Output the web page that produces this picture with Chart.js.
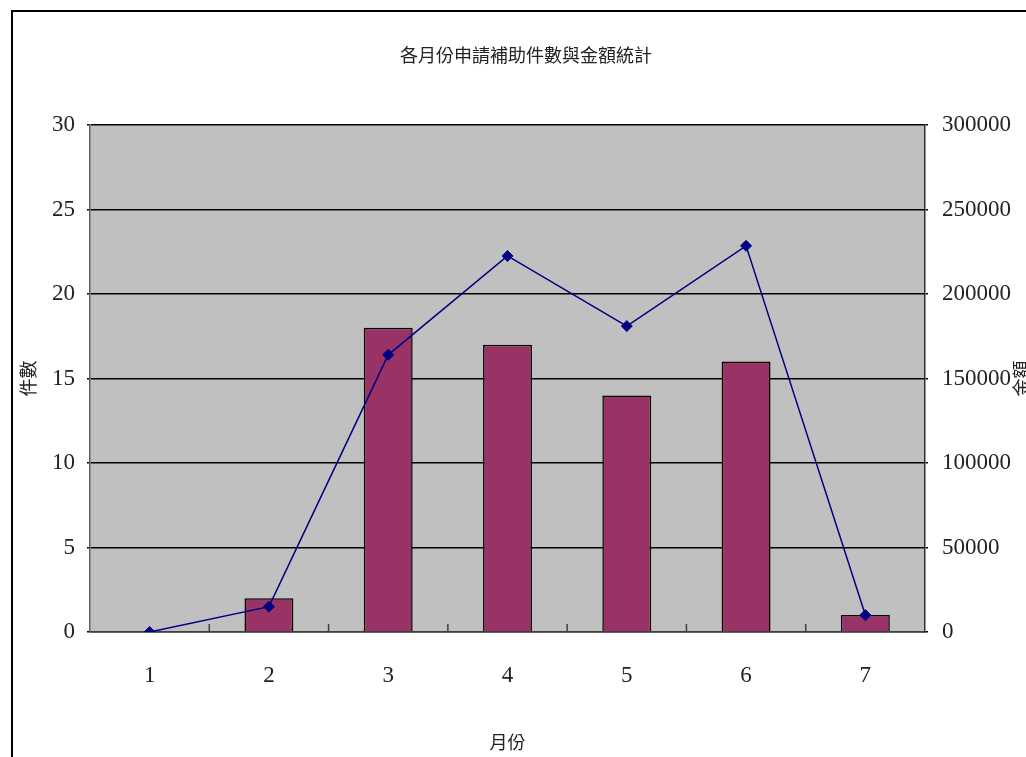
<!DOCTYPE html>
<html>
<head>
<meta charset="utf-8">
<script src="https://cdn.jsdelivr.net/npm/chart.js@4/dist/chart.umd.min.js"></script>
<style>
    html, body {
        margin: 0;
        padding: 0;
        background: #FFFFFF;
        overflow: hidden;
    }
</style>
</head>
<body>
<canvas id="grafico" width="1026" height="757"></canvas>
<script>

const meses = ["1", "2", "3", "4", "5", "6", "7"];

const casos = [0, 2, 18, 17, 14, 16, 1];

const montos = [0, 15000, 164000, 222500, 181000, 228500, 10000];

const titulo = "各月份申請補助件數與金額統計";
const tituloIzq = "件數";
const tituloDer = "金額";
const tituloX = "月份";

const fuenteNum = "'Liberation Serif', 'DejaVu Serif', serif";
const fuenteCJK = "'Noto Sans CJK TC', 'Noto Sans CJK SC', sans-serif";

// fondo gris, borde exterior, titulos y marcas del eje x
const marco = {
    id: "marco",

    beforeDraw(chart) {
        const ctx = chart.ctx;
        const area = chart.chartArea;

        ctx.save();
        ctx.fillStyle = "#FFFFFF";
        ctx.fillRect(0, 0, chart.width, chart.height);

        ctx.fillStyle = "#C0C0C0";
        ctx.fillRect(area.left, area.top, area.right - area.left, area.bottom - area.top);

        ctx.strokeStyle = "#000000";
        ctx.lineWidth = 2;
        ctx.strokeRect(12, 11, 1200, 1000);

        ctx.fillStyle = "#222222";
        ctx.font = "18px " + fuenteCJK;
        ctx.textAlign = "center";
        ctx.textBaseline = "middle";
        ctx.fillText(titulo, 526, 55);

        ctx.translate(1021, (area.top + area.bottom) / 2);
        ctx.rotate(-Math.PI / 2);
        ctx.fillText(tituloDer, 0, 0);
        ctx.restore();
    },

    beforeDatasetsDraw(chart) {
        const ctx = chart.ctx;
        const x = chart.scales.x;
        const n = meses.length;

        ctx.save();
        ctx.strokeStyle = "#404040";
        ctx.lineWidth = 1.5;
        for (let i = 1; i < n; i++) {
            const px = x.getPixelForValue(i - 0.5);
            ctx.beginPath();
            ctx.moveTo(px, x.top - 8);
            ctx.lineTo(px, x.top);
            ctx.stroke();
        }
        ctx.restore();
    }
};

new Chart(
    document.getElementById("grafico"),
    {
        type: "bar",

        data: {
            labels: meses,

            datasets: [
                {
                    type: "line",
                    label: tituloDer,
                    data: montos,
                    yAxisID: "y1",
                    borderColor: "#000080",
                    backgroundColor: "#000080",
                    borderWidth: 1.5,
                    pointStyle: "rectRot",
                    pointRadius: 5.5,
                    pointBorderWidth: 1,
                    tension: 0,
                    order: 0
                },
                {
                    label: tituloIzq,
                    data: casos,
                    yAxisID: "y",
                    backgroundColor: "#993366",
                    borderColor: "#000000",
                    borderWidth: 1.5,
                    categoryPercentage: 1,
                    barPercentage: 0.41,
                    order: 1
                }
            ]
        },

        options: {
            responsive: false,
            animation: false,
            devicePixelRatio: 1,

            layout: {
                padding: {
                    top: 125,
                    left: 0,
                    right: 0,
                    bottom: 0
                }
            },

            plugins: {
                legend: {
                    display: false
                },
                title: {
                    display: false
                },
                tooltip: {
                    enabled: false
                }
            },

            scales: {

                x: {
                    afterFit(scale) {
                        scale.height = 125;
                    },
                    grid: {
                        display: false,
                        drawTicks: false
                    },
                    border: {
                        display: true,
                        color: "#404040",
                        width: 1.5
                    },
                    ticks: {
                        color: "#222222",
                        padding: 30,
                        font: {
                            family: fuenteNum,
                            size: 23
                        }
                    },
                    title: {
                        display: true,
                        text: tituloX,
                        color: "#222222",
                        padding: { top: 0, bottom: 4 },
                        font: {
                            family: fuenteCJK,
                            size: 18
                        }
                    }
                },

                y: {
                    position: "left",
                    min: 0,
                    max: 30,
                    afterFit(scale) {
                        scale.width = 90;
                    },
                    ticks: {
                        stepSize: 5,
                        color: "#222222",
                        padding: 12,
                        font: {
                            family: fuenteNum,
                            size: 23
                        }
                    },
                    grid: {
                        color: "#000000",
                        lineWidth: 1.5,
                        tickLength: 3
                    },
                    border: {
                        display: true,
                        color: "#606060",
                        width: 1.5
                    },
                    title: {
                        display: true,
                        text: tituloIzq,
                        color: "#222222",
                        padding: { top: 17, bottom: 0 },
                        font: {
                            family: fuenteCJK,
                            size: 18
                        }
                    }
                },

                y1: {
                    position: "right",
                    min: 0,
                    max: 300000,
                    afterFit(scale) {
                        scale.width = 101;
                    },
                    ticks: {
                        stepSize: 50000,
                        color: "#222222",
                        padding: 14,
                        callback: (valor) => String(valor),
                        font: {
                            family: fuenteNum,
                            size: 23
                        }
                    },
                    grid: {
                        drawOnChartArea: false,
                        color: "#000000",
                        lineWidth: 1.5,
                        tickLength: 3
                    },
                    border: {
                        display: true,
                        color: "#303030",
                        width: 1.5
                    }
                }

            }
        },

        plugins: [marco]
    }
);

</script>
</body>
</html>
